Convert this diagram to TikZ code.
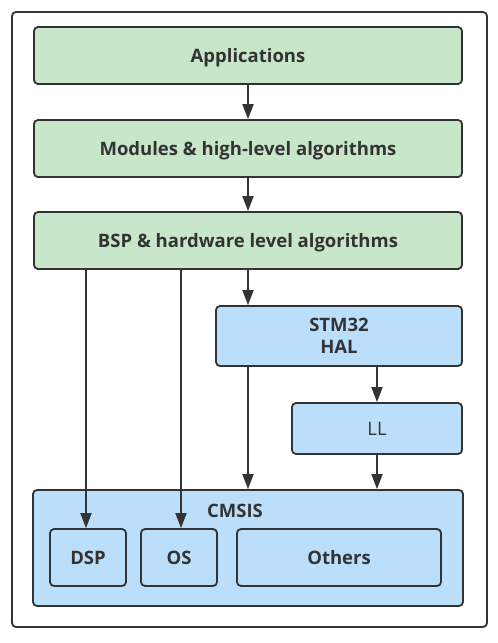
\documentclass[tikz,border=0pt]{standalone}
\usepackage{fontspec}
\setmainfont{Open Sans}
\usetikzlibrary{arrows.meta}
\definecolor{layergreen}{HTML}{C8E6C9}
\definecolor{layerblue}{HTML}{BBDEFB}
\definecolor{edgegray}{HTML}{333333}
\tikzset{
  layer/.style={draw=edgegray, line width=1.8pt, rounded corners=4pt, inner sep=0pt,
    font=\fontsize{18.5}{22}\selectfont\bfseries, text=edgegray, align=center},
  oneline/.style={text height=13.2pt, text depth=0pt},
  greenlayer/.style={layer, oneline, fill=layergreen, minimum width=428pt, minimum height=57pt},
  bluelayer/.style={layer, fill=layerblue},
  flow/.style={draw=edgegray, line width=1.8pt, -{Triangle[length=15pt,width=11pt]}}
}
\begin{document}
\begin{tikzpicture}[x=1pt,y=-1pt]
\useasboundingbox (0,0) rectangle (498,643);
\fill[white] (0,0) rectangle (498,643);
\draw[edgegray, line width=1.8pt, rounded corners=4pt] (12,12) rectangle (487,627);
% software layers
\node[greenlayer] (app) at (248,55.5) {Applications};
\node[greenlayer] (mod) at (248,148.5) {Modules \& high-level algorithms};
\node[greenlayer] (bsp) at (248,240.5) {BSP \& hardware level algorithms};
\node[bluelayer, minimum width=246pt, minimum height=60pt] (hal) at (339,336) {STM32\\HAL};
\node[bluelayer, oneline, minimum width=170pt, minimum height=51pt, font=\fontsize{18.5}{22}\selectfont] (ll) at (377,428.5) {LL};
% CMSIS block
\node[bluelayer, minimum width=430pt, minimum height=116pt] (cmsis) at (248,548) {};
\node[oneline, font=\fontsize{18.5}{22}\selectfont\bfseries, text=edgegray] (cmsistitle) at (235,511) {CMSIS};
\node[bluelayer, oneline, minimum width=76pt, minimum height=57pt] (dsp) at (88,557.5) {DSP};
\node[bluelayer, oneline, minimum width=76pt, minimum height=57pt] (os) at (179,557.5) {OS};
\node[bluelayer, oneline, minimum width=204pt, minimum height=57pt] (others) at (339,557.5) {Others};
% arrows
\draw[flow] (app) -- (mod);
\draw[flow] (mod) -- (bsp);
\draw[flow] (bsp) -- (bsp.south |- hal.north);
\draw[flow] ([xshift=-2pt]bsp.south -| dsp.north) -- ([xshift=-2pt]dsp.north);
\draw[flow] ([xshift=2pt]bsp.south -| os.north) -- ([xshift=2pt]os.north);
\draw[flow] (hal.south -| bsp.south) -- (cmsis.north -| bsp.south);
\draw[flow] (hal.south -| ll.north) -- (ll.north);
\draw[flow] (ll) -- (ll.south |- cmsis.north);
\end{tikzpicture}
\end{document}
